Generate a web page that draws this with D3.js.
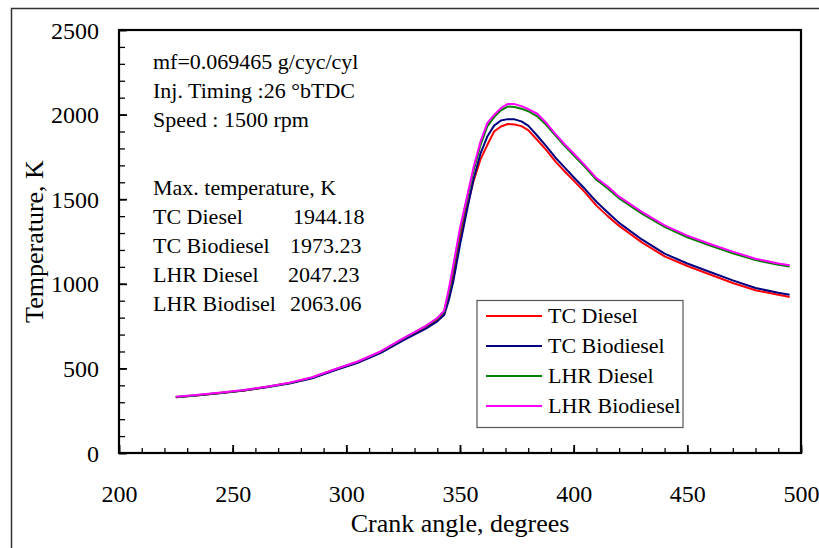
<!DOCTYPE html>
<html>
<head>
<meta charset="utf-8">
<script src="https://cdn.jsdelivr.net/npm/d3@7"></script>
<style>
  html, body { margin: 0; padding: 0; background: #fff; }
  svg { display: block; }
  svg text { font-family: "Liberation Serif", "Times New Roman", serif !important; }
</style>
</head>
<body>
<svg id="chart" width="819" height="548"></svg>
<script>
// Crank angle (degrees) at which the in-cylinder temperature was sampled
const crankAngle = [225, 235, 245, 255, 265, 275, 285, 295, 305, 315, 325, 335, 340, 343,
  345, 347, 350, 353, 356, 359, 362, 365, 368, 371, 374, 377, 380, 384, 388, 392, 396,
  400, 405, 410, 415, 420, 430, 440, 450, 460, 470, 480, 490, 495];

// Gas temperature, K
const tcDiesel = [330, 342, 355, 370, 390, 413, 445, 492, 537, 595, 672, 745, 790, 830,
  930, 1050, 1270, 1450, 1610, 1735, 1820, 1900, 1930, 1944.18, 1942, 1932, 1908, 1850, 1790, 1722, 1665,
  1610, 1540, 1462, 1400, 1342, 1245, 1162, 1105, 1055, 1005, 962, 935, 922];
const tcBiodiesel = [330, 342, 355, 370, 389, 411, 442, 489, 533, 590, 665, 735, 778, 815,
  900, 1010, 1230, 1430, 1620, 1770, 1870, 1935, 1965, 1973.23, 1972, 1960, 1935, 1875, 1812, 1745, 1688,
  1630, 1560, 1485, 1422, 1360, 1262, 1178, 1120, 1070, 1020, 975, 947, 935];
const lhrDiesel = [331, 343, 356, 371, 391, 414, 447, 494, 540, 598, 676, 750, 795, 835,
  945, 1085, 1310, 1495, 1670, 1820, 1930, 1985, 2025, 2047.23, 2045, 2035, 2020, 1990, 1938, 1876, 1815,
  1760, 1690, 1615, 1563, 1505, 1415, 1336, 1275, 1226, 1180, 1140, 1112, 1102];
const lhrBiodiesel = [332, 344, 357, 372, 392, 415, 448, 495, 541, 600, 678, 752, 798, 840,
  965, 1105, 1330, 1510, 1690, 1840, 1950, 1998, 2038, 2063.06, 2062, 2050, 2033, 2005, 1950, 1885, 1825,
  1770, 1700, 1625, 1575, 1515, 1425, 1345, 1285, 1235, 1190, 1148, 1120, 1110];

const seriesNames = ["TC Diesel", "TC Biodiesel", "LHR Diesel", "LHR Biodiesel"];
const seriesColors = ["#ff0000", "#000080", "#008000", "#ff00ff"];
const seriesValues = [tcDiesel, tcBiodiesel, lhrDiesel, lhrBiodiesel];

const xTicks = [200, 250, 300, 350, 400, 450, 500];
const yTicks = [0, 500, 1000, 1500, 2000, 2500];

const infoLines = ["mf=0.069465 g/cyc/cyl", "Inj. Timing :26 \u00b0bTDC", "Speed : 1500 rpm"];
const maxHeading = "Max. temperature, K";
const maxNames = ["TC Diesel", "TC Biodiesel", "LHR Diesel", "LHR Biodisel"];
const maxValues = ["1944.18", "1973.23", "2047.23", "2063.06"];

const FONT = "'Liberation Serif', 'Times New Roman', serif";
const serif = sel => sel.style("font-family", FONT, "important");

const svg = d3.select("#chart");
const plot = { left: 119, top: 30, right: 801, bottom: 453 };

const x = d3.scaleLinear().domain([200, 500]).range([plot.left, plot.right]);
const y = d3.scaleLinear().domain([0, 2500]).range([plot.bottom, plot.top]);

// outer figure frame
svg.append("rect")
  .attr("x", 11.5).attr("y", 8.5).attr("width", 830).attr("height", 560)
  .attr("fill", "none").attr("stroke", "#333").attr("stroke-width", 1.5);

// minor ticks (every 10 deg / 100 K), pointing into the plot
svg.append("g")
  .attr("transform", `translate(0,${plot.bottom})`)
  .call(d3.axisBottom(x).tickValues(d3.range(200, 501, 10)).tickSize(-5).tickFormat(""))
  .call(g => g.select(".domain").remove())
  .call(g => g.selectAll("text").remove())
  .call(g => g.selectAll("line").attr("stroke", "#000").attr("stroke-width", 1.3));
svg.append("g")
  .attr("transform", `translate(${plot.left},0)`)
  .call(d3.axisLeft(y).tickValues(d3.range(0, 2501, 100)).tickSize(-6).tickFormat(""))
  .call(g => g.select(".domain").remove())
  .call(g => g.selectAll("text").remove())
  .call(g => g.selectAll("line").attr("stroke", "#000").attr("stroke-width", 1.3));

// major ticks with labels
svg.append("g")
  .attr("transform", `translate(0,${plot.bottom})`)
  .call(d3.axisBottom(x).tickValues(xTicks).tickSize(-8).tickFormat(d3.format("d")))
  .call(serif)
  .call(g => g.select(".domain").remove())
  .call(g => g.selectAll("line").attr("stroke", "#000").attr("stroke-width", 1.8))
  .call(g => g.selectAll("text").attr("font-size", 24).attr("fill", "#000")
    .attr("y", 32).attr("dy", "0.71em").call(serif));
svg.append("g")
  .attr("transform", `translate(${plot.left},0)`)
  .call(d3.axisLeft(y).tickValues(yTicks).tickSize(-8).tickFormat(d3.format("d")))
  .call(serif)
  .call(g => g.select(".domain").remove())
  .call(g => g.selectAll("line").attr("stroke", "#000").attr("stroke-width", 1.8))
  .call(g => g.selectAll("text").attr("font-size", 24).attr("fill", "#000")
    .attr("x", -20).attr("dy", "0.34em").call(serif));

// plot frame
svg.append("rect")
  .attr("x", plot.left).attr("y", plot.top)
  .attr("width", plot.right - plot.left).attr("height", plot.bottom - plot.top)
  .attr("fill", "none").attr("stroke", "#000").attr("stroke-width", 2.2);

// temperature curves
const line = d3.line()
  .x((d, i) => x(crankAngle[i]))
  .y(d => y(d));
seriesValues.forEach((vals, k) => {
  svg.append("path")
    .datum(vals)
    .attr("d", line)
    .attr("fill", "none")
    .attr("stroke", seriesColors[k])
    .attr("stroke-width", 2)
    .attr("stroke-linejoin", "round");
});

// axis titles
svg.append("text")
  .attr("x", (plot.left + plot.right) / 2).attr("y", 532)
  .attr("text-anchor", "middle").attr("font-size", 26).attr("fill", "#000")
  .call(serif)
  .text("Crank angle, degrees");
svg.append("text")
  .attr("transform", `translate(43,${(plot.top + plot.bottom) / 2}) rotate(-90)`)
  .attr("text-anchor", "middle").attr("font-size", 26).attr("fill", "#000")
  .call(serif)
  .text("Temperature, K");

// operating conditions and peak temperatures
const note = svg.append("g").attr("font-size", 22).attr("fill", "#000").call(serif);
infoLines.forEach((t, i) => {
  note.append("text").attr("x", 153).attr("y", 69 + i * 29).call(serif).text(t);
});
note.append("text").attr("x", 153).attr("y", 195).call(serif).text(maxHeading);
const valueX = [293, 290, 288, 290];
maxNames.forEach((t, i) => {
  note.append("text").attr("x", 153).attr("y", 224 + i * 29).call(serif).text(t);
  note.append("text").attr("x", valueX[i]).attr("y", 224 + i * 29).call(serif).text(maxValues[i]);
});

// legend
const legend = svg.append("g").call(serif);
legend.append("rect")
  .attr("x", 477).attr("y", 300.5).attr("width", 206).attr("height", 127)
  .attr("fill", "#fff").attr("stroke", "#555").attr("stroke-width", 1.2);
seriesNames.forEach((name, i) => {
  const cy = 316 + i * 30;
  legend.append("line")
    .attr("x1", 486).attr("x2", 542).attr("y1", cy).attr("y2", cy)
    .attr("stroke", seriesColors[i]).attr("stroke-width", 2);
  legend.append("text")
    .attr("x", 548).attr("y", cy).attr("dy", "0.34em")
    .attr("font-size", 22).attr("fill", "#000")
    .call(serif)
    .text(name);
});
</script>
</body>
</html>
